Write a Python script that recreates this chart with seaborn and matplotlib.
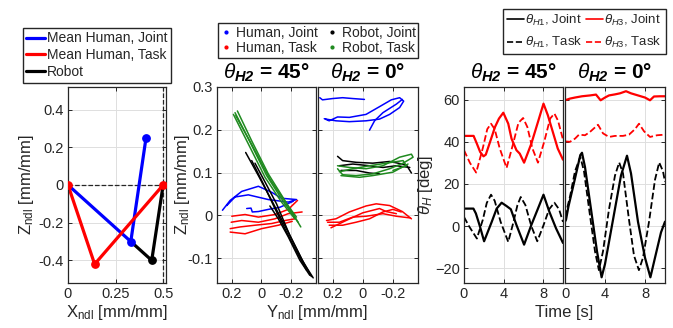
import numpy as np
import pandas as pd
import seaborn as sns
import matplotlib
matplotlib.use("Agg")
import matplotlib.pyplot as plt
from matplotlib.lines import Line2D

sns.set_theme(style="whitegrid")
plt.rcParams['font.family'] = ['Liberation Sans', 'DejaVu Sans']
plt.rcParams['mathtext.fontset'] = 'custom'
plt.rcParams['mathtext.rm'] = 'Liberation Sans'
plt.rcParams['mathtext.it'] = 'Liberation Sans:italic'
plt.rcParams['mathtext.bf'] = 'Liberation Sans:italic:bold'

BLUE, RED, BLACK, GREEN = '#0000ff', '#ff0000', '#000000', '#1f8a1f'
DARK = '#262626'

# ---------------- left panel: mean posture ----------------
joint_x = [0.0, 0.33, 0.41]
joint_z = [0.0, -0.30, 0.25]
task_x = [0.0, 0.14, 0.50]
task_z = [0.0, -0.42, 0.0]
robot_x = [0.33, 0.44, 0.50]
robot_z = [-0.30, -0.40, 0.0]

# ---------------- middle panels: Y/Z trajectories ----------------
# theta_H2 = 45 deg
hj45_y = [[0.263, 0.211, 0.133, 0.020, -0.070, -0.137, -0.238, -0.182, -0.047, 0.088, 0.178, 0.234],
          [0.099, 0.070, 0.061, 0.020, -0.047, -0.126, -0.216]]
hj45_z = [[0.012, 0.035, 0.056, 0.068, 0.054, 0.040, 0.037, 0.031, 0.037, 0.048, 0.043, 0.023],
          [0.016, 0.017, 0.008, 0.009, 0.014, 0.019, 0.033]]
ht45_y = [[0.200, 0.110, 0.020, -0.092, -0.182, -0.245],
          [0.204, 0.133, 0.020, -0.092, -0.182, -0.276],
          [0.211, 0.144, 0.043, -0.070, -0.160, -0.227],
          [0.211, 0.110, -0.002, -0.115, -0.209]]
ht45_z = [[-0.002, 0.002, -0.004, 0.002, 0.014, 0.035],
          [-0.016, -0.012, -0.016, -0.008, 0.004, 0.008],
          [-0.031, -0.027, -0.023, -0.019, -0.012, -0.008],
          [-0.039, -0.043, -0.031, -0.023, -0.014]]
rj45_y = [[0.106, 0.020, -0.070, -0.182, -0.272, -0.339],
          [0.043, -0.025, -0.103, -0.193, -0.283, -0.351],
          [-0.058, -0.115, -0.182, -0.261, -0.328],
          [0.065, -0.013, -0.092, -0.204, -0.306]]
rj45_z = [[0.147, 0.093, 0.035, -0.039, -0.101, -0.143],
          [0.122, 0.078, 0.027, -0.047, -0.109, -0.146],
          [0.022, -0.008, -0.050, -0.105, -0.140],
          [0.128, 0.074, 0.016, -0.062, -0.128]]
rt45_y = [[0.189, 0.088, -0.025, -0.137, -0.227],
          [0.162, 0.065, -0.047, -0.159, -0.267],
          [0.178, 0.076, -0.036, -0.148, -0.249],
          [0.173, 0.061, -0.058, -0.171, -0.238]]
rt45_z = [[0.236, 0.167, 0.089, 0.031, -0.008],
          [0.244, 0.174, 0.097, 0.035, -0.027],
          [0.240, 0.171, 0.093, 0.033, -0.016],
          [0.233, 0.163, 0.085, 0.027, -0.004]]

# theta_H2 = 0 deg
hj0_y = [[0.288, 0.270, 0.202, 0.135, 0.067, -0.011],
         [0.258, 0.225, 0.169, 0.090, -0.022, -0.112, -0.191, -0.247, -0.274, -0.247, -0.180, -0.112,
          -0.022, 0.090, 0.180, 0.247],
         [-0.045, -0.079, -0.135, -0.225, -0.265]]
hj0_z = [[0.275, 0.270, 0.273, 0.275, 0.273, 0.271],
         [0.226, 0.221, 0.230, 0.229, 0.236, 0.254, 0.270, 0.275, 0.267, 0.252, 0.236, 0.225,
          0.221, 0.219, 0.221, 0.225],
         [0.199, 0.221, 0.240, 0.260, 0.271]]
ht0_y = [[0.243, 0.180, 0.090, -0.022, -0.090, -0.180, -0.265, -0.326],
         [0.236, 0.157, 0.067, -0.022, -0.135, -0.225, -0.319],
         [0.225, 0.135, 0.045, -0.045, -0.135, -0.202, -0.258],
         [0.213, 0.112, 0.000, -0.112, -0.157, -0.225]]
ht0_z = [[-0.012, -0.008, 0.008, 0.022, 0.027, 0.023, 0.009, -0.008],
         [-0.016, -0.016, -0.004, -0.002, 0.004, -0.002, -0.006],
         [-0.023, -0.023, -0.016, -0.008, 0.008, 0.014, 0.008],
         [-0.029, -0.012, 0.006, 0.016, 0.009, 0.004]]
rj0_y = [[0.169, 0.135, 0.045, -0.067, -0.180, -0.292, -0.326],
         [0.157, 0.067, -0.045, -0.135, -0.225, -0.315],
         [0.146, 0.045, -0.045, -0.112]]
rj0_z = [[0.138, 0.128, 0.124, 0.122, 0.126, 0.118, 0.099],
         [0.116, 0.120, 0.116, 0.112, 0.116, 0.112],
         [0.105, 0.105, 0.099, 0.097]]
rt0_y = [[0.169, 0.090, -0.022, -0.135, -0.247, -0.326, -0.337, -0.270, -0.180, -0.067, 0.045, 0.135, 0.169],
         [0.157, 0.067, -0.045, -0.157, -0.270, -0.292, -0.202],
         [0.146, 0.022, -0.067, -0.202, -0.303]]
rt0_z = [[0.116, 0.112, 0.109, 0.116, 0.136, 0.143, 0.136, 0.122, 0.109, 0.097, 0.093, 0.095, 0.109],
         [0.102, 0.109, 0.116, 0.122, 0.128, 0.116, 0.105],
         [0.093, 0.089, 0.093, 0.101, 0.120]]

# ---------------- right panels: joint angles vs time ----------------
h3j45_t = [0, 0.97, 1.3, 1.63, 1.97, 2.2, 2.63, 3.13, 3.53, 3.97, 4.47, 4.8, 5.3, 5.63, 6.07, 6.8, 7.47, 8.03, 8.47, 8.97, 9.47, 10.0]
h3j45_v = [42.8, 42.8, 39.1, 35.2, 33.1, 33.9, 39.9, 47.0, 51.0, 53.8, 48.6, 41.5, 36.0, 34.4, 30.1, 39.1, 49.4, 58.1, 52.6, 44.7, 36.8, 31.5]
h3t45_t = [0, 0.6, 1.23, 1.9, 2.35, 2.73, 3.1, 3.6, 4.3, 4.9, 5.5, 5.97, 6.4, 6.9, 7.47, 8.1, 8.7, 9.13, 9.5, 10.0]
h3t45_v = [36.0, 30.0, 25.4, 37.0, 46.0, 48.6, 46.0, 37.0, 27.6, 38.0, 49.0, 51.3, 47.0, 37.0, 30.1, 40.0, 51.0, 53.4, 50.0, 41.0]
h1j45_t = [0, 0.95, 1.2, 1.6, 2.03, 2.8, 3.3, 3.8, 4.3, 4.73, 5.3, 6.07, 6.8, 7.47, 8.03, 8.63, 9.3, 10.0]
h1j45_v = [8.3, 8.3, 6.0, 0.0, -7.2, 2.0, 8.3, 11.1, 9.5, 8.0, 0.5, -8.8, 0.5, 8.3, 14.9, 6.7, -1.1, -8.0]
h1t45_t = [0, 0.5, 1.3, 1.9, 2.3, 2.73, 3.1, 3.7, 4.47, 5.0, 5.4, 5.73, 6.2, 6.8, 7.4, 8.0, 8.6, 9.13, 9.6, 10.0]
h1t45_v = [4.3, 0.0, -5.9, 3.0, 11.0, 14.9, 12.0, 2.0, -7.5, 2.0, 10.0, 13.8, 10.0, 0.0, -7.2, 0.0, 8.0, 11.1, 8.0, 2.0]

h3j0_t = [0, 0.5, 1.0, 1.7, 2.5, 3.1, 3.56, 4.0, 4.4, 5.0, 5.5, 6.1, 6.6, 7.3, 8.0, 8.5, 8.9, 9.5, 10.0]
h3j0_v = [59.7, 60.5, 61.0, 61.6, 62.0, 62.4, 59.7, 61.0, 62.0, 62.5, 63.0, 64.0, 63.0, 62.0, 61.0, 59.7, 61.5, 61.6, 61.6]
h3t0_t = [0, 0.5, 1.0, 1.4, 2.0, 2.5, 3.3, 3.8, 4.4, 5.0, 5.8, 6.4, 7.0, 7.4, 7.9, 8.5, 9.2, 10.0]
h3t0_v = [40.2, 40.0, 41.5, 43.4, 43.1, 44.7, 48.1, 44.0, 42.3, 42.8, 42.8, 43.4, 46.0, 48.6, 45.0, 42.3, 43.1, 43.4]
h1j0_t = [0, 0.1, 0.34, 1.0, 1.53, 1.7, 2.0, 2.6, 3.2, 3.66, 4.0, 4.8, 5.6, 6.2, 6.6, 7.3, 8.0, 8.54, 9.0, 9.6, 10.0]
h1j0_v = [2.1, 3.0, 9.2, 22.6, 33.7, 34.8, 28.0, 8.0, -12.0, -24.3, -18.0, 3.0, 24.0, 33.4, 25.0, 2.0, -15.0, -24.3, -15.0, -3.0, 2.1]
h1t0_t = [0, 0.5, 1.0, 1.53, 1.9, 2.5, 3.0, 3.39, 3.8, 4.4, 5.0, 5.42, 5.8, 6.4, 6.9, 7.39, 7.8, 8.4, 9.0, 9.42, 9.8, 10.0]
h1t0_v = [4.4, 14.0, 26.0, 32.9, 26.0, 5.0, -12.0, -20.9, -12.0, 8.0, 24.0, 30.2, 25.0, 3.0, -14.0, -20.9, -15.0, 2.0, 22.0, 30.2, 26.0, 21.0]


def style_ax(ax):
    ax.set_facecolor('white')
    ax.grid(True, color='#dedede', lw=0.7)
    for s in ax.spines.values():
        s.set_color(DARK)
        s.set_linewidth(0.9)
        s.set_visible(True)
    ax.tick_params(direction='in', length=3, width=0.7, colors=DARK, labelsize=10.5,
                   top=True, right=True, bottom=True, left=True, pad=3)


def strokes(ax, ys, zs, color):
    for y, z in zip(ys, zs):
        sns.lineplot(x=y, y=z, sort=False, estimator=None, ax=ax, color=color, lw=1.1, legend=False)


fig = plt.figure(figsize=(6.73, 3.28), dpi=100)
W, H = 673.0, 328.0


def add_ax(x0, x1, y0=87, y1=283):
    return fig.add_axes([x0 / W, 1 - y1 / H, (x1 - x0) / W, (y1 - y0) / H])


# left
axL = add_ax(68, 166)
style_ax(axL)
axL.plot([0, 0.5], [0, 0], ls='--', color=DARK, lw=0.9)
axL.axvline(0.5, ls='--', color=DARK, lw=0.9)
sns.lineplot(x=robot_x, y=robot_z, sort=False, estimator=None, ax=axL, color=BLACK, lw=2.3, legend=False)
sns.lineplot(x=joint_x, y=joint_z, sort=False, estimator=None, ax=axL, color=BLUE, lw=2.3, legend=False)
sns.lineplot(x=task_x, y=task_z, sort=False, estimator=None, ax=axL, color=RED, lw=2.3, legend=False)
axL.scatter(robot_x[1:2], robot_z[1:2], color=BLACK, s=28, zorder=5)
axL.scatter(joint_x[1:], joint_z[1:], color=BLUE, s=28, zorder=5)
axL.scatter(task_x, task_z, color=RED, s=28, zorder=6)
axL.set_xlim(0, 0.515)
axL.set_ylim(-0.52, 0.52)
axL.set_xticks([0, 0.25, 0.5])
axL.set_xticklabels(['0', '0.25', '0.5'])
axL.set_yticks([-0.4, -0.2, 0, 0.2, 0.4])
axL.set_yticklabels(['-0.4', '-0.2', '0', '0.2', '0.4'])
axL.set_ylabel(r'Z$_{\rm ndl}$ [mm/mm]', fontsize=12, color=DARK, labelpad=2)
axL.set_xlabel('')
fig.text(117 / W, 1 - 313 / H, r'X$_{\rm ndl}$ [mm/mm]', ha='center', va='center', fontsize=12, color=DARK)

# middle
axM1 = add_ax(217, 316)
axM2 = add_ax(318, 418)
for ax, (hjy, hjz, hty, htz, rjy, rjz, rty, rtz) in zip(
        [axM1, axM2],
        [(hj45_y, hj45_z, ht45_y, ht45_z, rj45_y, rj45_z, rt45_y, rt45_z),
         (hj0_y, hj0_z, ht0_y, ht0_z, rj0_y, rj0_z, rt0_y, rt0_z)]):
    style_ax(ax)
    strokes(ax, hjy, hjz, BLUE)
    strokes(ax, hty, htz, RED)
    strokes(ax, rjy, rjz, BLACK)
    strokes(ax, rty, rtz, GREEN)
    ax.set_xlim(0.30, -0.37)
    ax.set_ylim(-0.158, 0.3)
    ax.set_xticks([0.2, 0, -0.2])
    ax.set_xticklabels(['0.2', '0', '-0.2'])
    ax.set_yticks([-0.1, 0, 0.1, 0.2, 0.3])
    ax.set_xlabel('')
    ax.set_ylabel('')
axM1.set_yticklabels(['-0.1', '0', '0.1', '0.2', '0.3'])
axM2.set_yticklabels([])
axM1.set_ylabel(r'Z$_{\rm ndl}$ [mm/mm]', fontsize=12, color=DARK, labelpad=-3)
fig.text(317 / W, 1 - 313 / H, r'Y$_{\rm ndl}$ [mm/mm]', ha='center', va='center', fontsize=12, color=DARK)

# right
axR1 = add_ax(464, 563)
axR2 = add_ax(565, 665)
for ax, (t3j, v3j, t3t, v3t, t1j, v1j, t1t, v1t) in zip(
        [axR1, axR2],
        [(h3j45_t, h3j45_v, h3t45_t, h3t45_v, h1j45_t, h1j45_v, h1t45_t, h1t45_v),
         (h3j0_t, h3j0_v, h3t0_t, h3t0_v, h1j0_t, h1j0_v, h1t0_t, h1t0_v)]):
    style_ax(ax)
    sns.lineplot(x=t3j, y=v3j, ax=ax, color=RED, lw=1.6, legend=False)
    sns.lineplot(x=t3t, y=v3t, ax=ax, color=RED, lw=1.3, ls='--', legend=False)
    sns.lineplot(x=t1j, y=v1j, ax=ax, color=BLACK, lw=1.6, legend=False)
    sns.lineplot(x=t1t, y=v1t, ax=ax, color=BLACK, lw=1.3, ls='--', legend=False)
    ax.set_xlim(0, 10)
    ax.set_ylim(-27, 66)
    ax.set_xticks([0, 4, 8])
    ax.set_yticks([-20, 0, 20, 40, 60])
    ax.set_xlabel('')
    ax.set_ylabel('')
axR2.set_yticklabels([])
axR1.set_ylabel(r'$\theta_H$ [deg]', fontsize=12, color=DARK, labelpad=0)
fig.text(564 / W, 1 - 313 / H, 'Time [s]', ha='center', va='center', fontsize=12, color=DARK)

# titles
for ax, ttl in [(axM1, '45°'), (axM2, '0°'), (axR1, '45°'), (axR2, '0°')]:
    ax.set_title(r'$\theta_{\mathbf{H2}}$ = ' + ttl, fontsize=15, fontweight='bold', color='black', pad=6)

# legends
legL = [Line2D([], [], color=BLUE, lw=2.3), Line2D([], [], color=RED, lw=2.3), Line2D([], [], color=BLACK, lw=2.3)]
fig.legend(legL, ['Mean Human, Joint', 'Mean Human, Task', 'Robot'], loc='upper left',
           bbox_to_anchor=(23 / W, 1 - 28 / H), fontsize=10, frameon=True, fancybox=False,
           edgecolor=DARK, framealpha=1, handlelength=1.3, handletextpad=0.2, borderpad=0.25,
           labelspacing=0.2, borderaxespad=0)

legM = [Line2D([], [], color=c, marker='.', ms=4, lw=0) for c in [BLUE, RED, BLACK, GREEN]]
fig.legend(legM, ['Human, Joint', 'Human, Task', 'Robot, Joint', 'Robot, Task'], ncol=2,
           loc='upper left', bbox_to_anchor=(218 / W, 1 - 23 / H), fontsize=10, frameon=True,
           fancybox=False, edgecolor=DARK, framealpha=1, handlelength=0.8, handletextpad=0.3,
           borderpad=0.2, labelspacing=0.1, columnspacing=0.6, borderaxespad=0)

legR = [Line2D([], [], color=BLACK, lw=1.2), Line2D([], [], color=BLACK, lw=1.2, ls='--'),
        Line2D([], [], color=RED, lw=1.2), Line2D([], [], color=RED, lw=1.2, ls='--')]
fig.legend(legR, [r'$\theta_{H1}$, Joint', r'$\theta_{H1}$, Task', r'$\theta_{H3}$, Joint', r'$\theta_{H3}$, Task'],
           ncol=2, loc='upper left', bbox_to_anchor=(503 / W, 1 - 9 / H), fontsize=9.5, frameon=True,
           fancybox=False, edgecolor=DARK, framealpha=1, handlelength=1.3, handletextpad=0.1,
           borderpad=0.3, labelspacing=0.55, columnspacing=0.2, borderaxespad=0)

fig.savefig('out.png', dpi=100)
